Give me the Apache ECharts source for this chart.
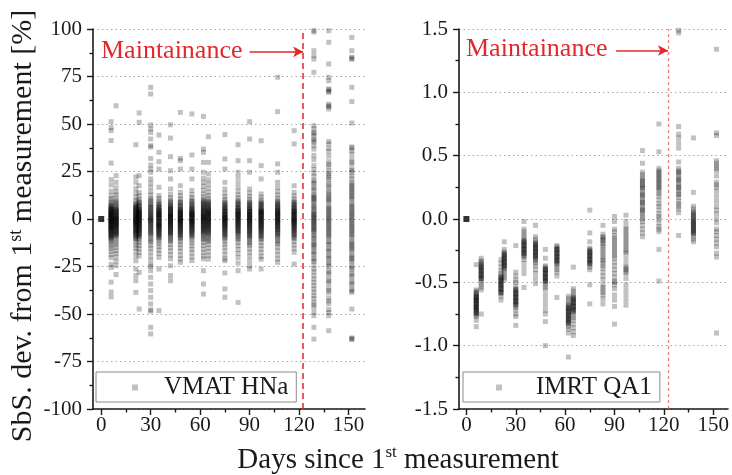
<!DOCTYPE html>
<html>
<head>
<meta charset="utf-8">
<script src="https://cdn.jsdelivr.net/npm/echarts@6/dist/echarts.min.js"></script>
<style>
  html, body { margin: 0; padding: 0; background: #ffffff; }
  #chart { width: 732px; height: 475px; }
</style>
</head>
<body>
<div id="chart"></div>
<script>
// Measurement days (days since the first measurement), shared by both panels
const measurementDays = [6, 9, 21, 23, 30, 35, 42, 48, 55, 62, 65, 75, 83, 90, 97, 107, 117, 129, 138, 152];
const maintenanceDay = 122.5;
const xTickValues = [0, 30, 60, 90, 120, 150];
const xMinorTickValues = [15, 45, 75, 105, 135];

// Reference measurement (day 0) of each panel
const referencePoint = [0, 0];

// VMAT HNa: segment-by-segment deviation [%] per measurement day
const vmatHNa = [
  [51.2, 48.1, 46.5, 41.3, 29.4, 20.7, 17.9, 14.6, 12.3, 10.8, 9.7, 8.6, 7.9, 7.1, 6.4, 5.8, 5.2, 4.7, 4.1, 3.6, 3.1, 2.5, 2.0, 1.6, 1.1, 0.7, 0.2, -0.3, -0.8, -1.2, -1.7, -2.3, -2.8, -3.4, -3.9, -4.4, -5.0, -5.6, -6.1, -6.7, -7.4, -8.0, -8.8, -9.5, -10.3, -11.2, -12.0, -13.1, -14.3, -15.6, -17.0, -18.8, -20.4, -23.9, -25.5, -33.2, -38.4, -41.0, 5.5, 3.8, 2.2, 0.9, -0.6, -2.0, -3.5, -4.9, -6.3, -7.7, 1.5, -1.1, -9.1, 4.4, 6.8, 5.0, 3.3, 1.9, 0.4, -0.9, -2.5, -3.7, -5.3, -6.6, -8.4, -10.0, 2.8, -4.1, -1.5],
  [59.6, 22.8, 19.3, 16.4, 14.2, 12.7, 11.0, 9.6, 8.2, 7.3, 6.5, 5.4, 4.6, 3.9, 3.2, 2.4, 1.7, 1.0, 0.4, -0.2, -0.9, -1.6, -2.2, -2.9, -3.5, -4.3, -5.1, -5.8, -6.6, -7.3, -8.1, -9.0, -9.9, -11.1, -12.4, -13.6, -15.0, -16.7, -18.2, -20.1, -22.3, -24.6, -29.2, 4.1, 2.7, 1.3, -0.5, -1.9, -3.2, -4.6, -6.0, -7.8, 0.2, 8.8, 6.0, 3.6, 2.0, 0.8, -1.2, -2.6, -4.0, -5.4, -7.0, -8.6, 5.0, -0.6, -3.0],
  [39.1, 22.1, 19.3, 16.0, 13.5, 11.4, 9.8, 8.5, 7.6, 6.6, 5.9, 5.0, 4.3, 3.5, 2.8, 2.2, 1.5, 0.9, 0.3, -0.4, -1.0, -1.7, -2.3, -3.0, -3.6, -4.4, -5.2, -5.9, -6.7, -7.6, -8.5, -9.6, -10.8, -12.1, -13.7, -15.2, -17.0, -19.4, -22.0, -26.3, -29.8, -32.5, -38.6, 6.1, 4.0, 2.5, 1.1, -0.2, -1.4, -2.6, -3.9, -5.5, -7.1, -8.9, 7.2, 5.4, 3.1, 1.8, 0.6, -0.8, -2.0, -3.3, -4.8, -6.3, -8.0, -10.2, 4.6, -1.4],
  [55.8, 50.9, 22.8, 17.5, 13.9, 12.1, 10.4, 9.2, 8.1, 7.2, 6.3, 5.6, 4.8, 4.0, 3.3, 2.6, 2.0, 1.3, 0.7, 0.1, -0.5, -1.1, -1.8, -2.4, -3.1, -3.8, -4.5, -5.3, -6.0, -6.9, -7.8, -8.7, -9.8, -11.0, -12.4, -13.9, -15.6, -17.5, -19.4, -28.1, -47.4, 5.1, 3.6, 2.3, 0.9, -0.8, -2.1, -3.5, -4.9, -6.4, -8.2, 8.6, 6.8, 4.4, 2.9, 1.6, 0.4, -1.4, -2.8, -4.2, -5.7, -7.3, -9.3, 3.7, -0.2],
  [69.3, 65.8, 49.5, 47.4, 45.6, 42.1, 38.6, 37.9, 31.9, 28.4, 26.3, 24.6, 21.1, 18.9, 16.7, 14.3, 12.6, 10.8, 9.5, 8.1, 6.9, 5.7, 4.4, 3.4, 2.2, 1.2, 0.3, -0.8, -1.9, -2.9, -4.1, -5.2, -6.4, -7.7, -9.0, -10.5, -12.1, -13.8, -15.4, -17.3, -19.6, -21.8, -24.3, -24.9, -27.2, -30.7, -34.2, -37.7, -41.2, -44.7, -47.8, -48.5, -57.0, -60.5, 3.9, 1.8, -0.2, -2.4, -4.6, -6.9, 9.9, 7.5, 5.1, 2.8, 0.8, -1.3, -3.5, -5.8, -8.3, -11.3, 6.3, -0.5],
  [44.2, 35.1, 30.2, 26.3, 16.7, 12.4, 10.9, 9.6, 8.4, 7.5, 6.6, 5.7, 4.9, 4.2, 3.4, 2.7, 2.0, 1.4, 0.8, 0.1, -0.6, -1.2, -1.9, -2.6, -3.3, -4.0, -4.8, -5.6, -6.4, -7.3, -8.3, -9.3, -10.4, -11.7, -13.0, -14.6, -16.3, -18.1, -20.2, -26.3, -48.2, 5.3, 3.7, 2.3, 0.5, -0.9, -2.3, -3.7, -5.1, -6.9, -8.6, 7.9, 6.1, 4.5, 3.0, 1.7, 0.3, -1.5, -2.9, -4.4, -6.0, -7.7, -9.8, 2.6, -3.6],
  [49.6, 42.6, 32.8, 25.4, 21.1, 15.8, 12.9, 11.1, 9.7, 8.5, 7.4, 6.5, 5.6, 4.8, 4.0, 3.3, 2.5, 1.8, 1.2, 0.5, -0.2, -0.9, -1.5, -2.2, -2.9, -3.7, -4.5, -5.3, -6.2, -7.1, -8.1, -9.2, -10.5, -11.8, -13.3, -15.0, -16.9, -18.9, -21.0, -24.6, -29.8, -32.5, 6.0, 4.4, 2.9, 1.5, 0.0, -1.3, -2.6, -4.1, -5.8, -7.5, 8.9, 7.0, 5.2, 3.6, 2.1, 0.9, -0.6, -1.9, -3.3, -4.9, -6.6, -8.6, -11.1, 1.4],
  [56.1, 31.9, 30.7, 26.3, 17.5, 14.0, 12.2, 10.6, 9.3, 8.2, 7.2, 6.3, 5.5, 4.6, 3.9, 3.1, 2.4, 1.7, 1.1, 0.4, -0.3, -1.0, -1.6, -2.3, -3.0, -3.8, -4.6, -5.4, -6.3, -7.2, -8.2, -9.4, -10.6, -12.0, -13.5, -15.2, -17.0, -19.1, -21.0, -22.8, 5.0, 3.5, 2.0, 0.8, -0.6, -1.9, -3.4, -4.9, -6.6, -8.6, 8.7, 6.7, 4.2, 2.7, 1.4, 0.1, -1.3, -2.7, -4.2, -5.8, -7.6, -9.9, 3.5, -0.7],
  [55.3, 33.7, 26.3, 21.1, 15.1, 12.9, 11.3, 9.9, 8.7, 7.7, 6.8, 5.9, 5.1, 4.3, 3.6, 2.9, 2.2, 1.6, 0.9, 0.3, -0.4, -1.0, -1.7, -2.4, -3.1, -3.9, -4.7, -5.5, -6.4, -7.4, -8.5, -9.7, -11.0, -12.5, -14.1, -15.9, -17.8, -19.9, -21.9, 5.6, 4.0, 2.6, 1.2, -0.1, -1.5, -2.9, -4.3, -6.0, -7.9, 9.3, 7.2, 4.7, 3.2, 1.9, 0.6, -0.7, -2.1, -3.5, -5.1, -6.9, -9.0, 2.5, -1.3],
  [54.0, 36.8, 35.1, 29.8, 24.6, 21.5, 19.3, 17.2, 15.1, 13.2, 11.6, 10.2, 9.0, 7.9, 6.9, 6.0, 5.1, 4.3, 3.5, 2.8, 2.0, 1.3, 0.6, -0.1, -0.8, -1.5, -2.2, -3.0, -3.8, -4.6, -5.5, -6.4, -7.4, -8.5, -9.7, -11.0, -12.4, -14.0, -15.8, -17.6, -19.5, -21.0, -27.2, -34.2, -39.5, 7.5, 5.6, 3.9, 2.4, 0.9, -0.5, -2.0, -3.4, -5.0, -6.9, 9.5, 8.4, 6.4, 4.7, 3.1, 1.6, 0.2, -1.2, -2.6, -4.2, -5.9, -7.9, -10.3, 1.0],
  [43.3, 29.8, 23.7, 20.6, 18.4, 16.1, 14.0, 12.3, 10.8, 9.5, 8.4, 7.4, 6.4, 5.5, 4.7, 3.9, 3.1, 2.4, 1.7, 1.0, 0.3, -0.4, -1.1, -1.8, -2.5, -3.3, -4.1, -4.9, -5.8, -6.8, -7.9, -9.1, -10.4, -11.8, -13.4, -15.2, -17.1, -19.2, -21.1, 6.9, 5.0, 3.4, 1.9, 0.6, -0.7, -2.1, -3.6, -5.3, -7.3, 9.0, 7.9, 5.9, 4.3, 2.8, 1.4, 0.0, -1.4, -2.9, -4.5, -6.3, -8.5, -11.1, 3.5],
  [44.4, 31.6, 26.3, 19.3, 15.8, 13.6, 11.8, 10.3, 9.0, 7.9, 6.9, 6.0, 5.1, 4.3, 3.5, 2.8, 2.1, 1.4, 0.7, 0.1, -0.6, -1.3, -2.0, -2.7, -3.4, -4.2, -5.0, -5.9, -6.9, -7.9, -9.0, -10.3, -11.7, -13.2, -14.9, -16.8, -18.9, -21.0, -21.9, -28.4, -36.8, -41.2, 5.8, 4.2, 2.6, 1.0, -0.3, -1.7, -3.1, -4.6, -6.4, -8.4, 8.4, 7.4, 5.5, 3.9, 2.4, 1.3, -0.1, -1.0, -2.4, -3.8, -5.4, -7.4, -9.6, 0.4],
  [39.1, 30.7, 24.6, 22.1, 19.4, 16.8, 14.6, 12.7, 11.1, 9.7, 8.5, 7.4, 6.4, 5.5, 4.6, 3.8, 3.0, 2.3, 1.6, 0.9, 0.2, -0.5, -1.2, -1.9, -2.7, -3.5, -4.3, -5.2, -6.2, -7.2, -8.3, -9.5, -10.9, -12.4, -14.1, -16.0, -18.1, -20.3, -23.2, -27.2, -43.9, 6.2, 4.3, 2.7, 1.2, -0.1, -1.5, -3.0, -4.7, -6.6, 9.0, 7.9, 5.9, 4.2, 2.6, 1.9, 0.5, -0.8, -2.3, -3.9, -5.7, -7.7, -10.1, 3.4],
  [51.2, 42.1, 30.7, 24.6, 15.8, 13.7, 11.9, 10.4, 9.1, 8.0, 7.0, 6.1, 5.2, 4.4, 3.6, 2.9, 2.2, 1.5, 0.8, 0.1, -0.6, -1.3, -2.0, -2.8, -3.6, -4.4, -5.3, -6.2, -7.2, -8.3, -9.5, -10.8, -12.2, -13.8, -15.6, -17.5, -19.6, -22.0, -24.6, -26.3, 5.4, 3.9, 2.5, 1.1, -0.2, -1.6, -3.2, -4.8, -6.7, -8.8, 8.5, 7.5, 5.6, 4.0, 2.6, 1.8, 0.4, -0.9, -2.4, -4.0, -5.8, -7.7, -10.1, -12.9],
  [41.2, 28.1, 21.1, 13.2, 11.5, 10.1, 8.9, 7.9, 7.0, 6.1, 5.3, 4.5, 3.8, 3.1, 2.4, 1.7, 1.1, 0.4, -0.3, -0.9, -1.6, -2.3, -3.0, -3.8, -4.6, -5.4, -6.3, -7.3, -8.4, -9.6, -10.9, -12.4, -14.0, -15.8, -17.7, -19.8, -21.2, -26.3, 4.8, 3.4, 2.0, 0.7, -0.6, -2.0, -3.4, -4.9, -6.7, -8.8, 8.4, 7.5, 5.7, 4.1, 2.7, 1.4, 0.1, -1.3, -2.7, -4.2, -5.9, -7.8, -10.2, 3.5],
  [74.6, 56.5, 29.0, 24.6, 19.3, 16.7, 14.5, 12.6, 11.0, 9.6, 8.4, 7.3, 6.3, 5.4, 4.5, 3.7, 2.9, 2.2, 1.5, 0.8, 0.1, -0.6, -1.3, -2.0, -2.8, -3.6, -4.5, -5.4, -6.4, -7.5, -8.7, -10.0, -11.5, -13.1, -14.9, -16.8, -18.9, -21.0, -22.8, 6.6, 4.8, 3.2, 1.8, 0.4, -0.9, -2.3, -3.9, -5.7, -7.8, 8.9, 7.8, 5.8, 4.1, 2.5, 1.1, -0.3, -1.7, -3.2, -4.9, -6.9, -9.3, -12.2, 3.4],
  [46.5, 39.5, 17.5, 14.0, 12.1, 10.6, 9.3, 8.2, 7.2, 6.3, 5.4, 4.6, 3.8, 3.1, 2.4, 1.7, 1.0, 0.4, -0.3, -1.0, -1.7, -2.4, -3.2, -4.0, -4.9, -5.8, -6.8, -7.9, -9.1, -10.4, -11.9, -13.6, -15.5, -17.5, -23.7, 5.9, 4.2, 2.8, 1.3, -0.1, -1.4, -2.8, -4.4, -6.2, -8.3, 8.7, 7.7, 5.8, 4.0, 2.0, 0.7, -0.7, -2.1, -3.6, -5.3, -7.3, -9.7, 3.4, -1.2],
  [99.2, 98.4, 88.6, 86.0, 84.2, 77.2, 49.1, 47.5, 45.6, 43.9, 42.1, 40.5, 38.6, 36.8, 28.1, 26.0, 24.2, 22.5, 20.3, 18.6, 16.9, 14.8, 13.0, 11.5, 10.2, 8.6, 7.1, 5.8, 4.5, 3.0, 1.8, 0.6, -0.7, -1.9, -3.2, -4.6, -5.9, -7.4, -8.8, -10.3, -11.9, -13.6, -15.2, -16.9, -18.7, -20.6, -22.4, -26.3, -29.8, -33.3, -35.1, -38.6, -40.4, -43.9, -46.5, -49.1, -50.9, -57.0, -63.2, 33.5, 31.2, 19.5, 15.9, 12.2, 9.4, 6.4, 3.8, 1.2, -1.3, -4.0, -6.6, -9.5, -12.7, -14.4, -17.8, -21.5, -24.3, -27.8, -31.6, -36.9, -41.9, -45.2, 45.0, 41.3, -2.6, 2.3, -5.2, 0.0, 10.9],
  [99.1, 93.0, 81.6, 74.6, 72.8, 68.4, 68.0, 66.7, 59.6, 59.1, 57.9, 39.5, 35.6, 33.1, 30.2, 27.5, 25.3, 22.9, 20.6, 18.8, 16.4, 14.7, 12.5, 10.6, 8.9, 7.0, 5.3, 3.6, 1.9, 0.2, -1.4, -3.1, -4.8, -6.5, -8.3, -10.1, -11.8, -13.5, -15.4, -17.3, -19.1, -21.0, -22.8, -24.9, -27.0, -29.3, -31.6, -33.9, -36.4, -38.9, -41.7, -44.6, -47.6, -50.9, -58.8, 37.2, 28.8, 24.1, 21.8, 17.6, 13.6, 11.5, 9.7, 6.1, 4.4, 2.7, 1.0, -0.6, -2.2, -4.0, -5.6, -7.4, -9.2, -12.7, -16.3, -20.1, -23.8, -28.2, -32.7, -37.6, -43.1, -49.2, 40.8, 60.4, 67.2],
  [95.6, 88.6, 84.6, 84.0, 69.3, 61.8, 50.5, 37.9, 37.4, 34.2, 31.6, 28.9, 26.3, 24.4, 21.1, 19.3, 17.4, 15.6, 13.6, 11.8, 9.9, 8.1, 6.4, 4.5, 2.8, 1.0, -0.8, -2.6, -4.3, -6.1, -7.9, -9.8, -11.5, -13.4, -15.1, -17.0, -18.9, -20.7, -22.6, -24.6, -26.5, -28.4, -30.5, -32.6, -34.8, -36.9, -38.6, -47.4, -63.0, -63.4, 35.9, 29.9, 25.5, 22.6, 18.3, 16.5, 14.6, 12.7, 10.8, 7.2, 5.4, 3.6, 1.9, 0.1, -1.7, -3.5, -5.2, -7.0, -8.8, -12.4, -14.2, -16.1, -19.8, -21.6, -25.6, -29.5, -33.7, -37.8, 85.2, -62.6]
];

// IMRT QA1: segment-by-segment deviation [%] per measurement day
const imrtQA1 = [
  [-0.36, -0.56, -0.57, -0.58, -0.59, -0.60, -0.61, -0.62, -0.62, -0.63, -0.64, -0.65, -0.65, -0.66, -0.67, -0.68, -0.69, -0.69, -0.70, -0.71, -0.72, -0.73, -0.74, -0.75, -0.76, -0.77, -0.80, -0.85, -0.61, -0.64, -0.67, -0.70, -0.72, -0.74],
  [-0.31, -0.33, -0.34, -0.35, -0.36, -0.37, -0.38, -0.39, -0.40, -0.41, -0.42, -0.43, -0.44, -0.45, -0.46, -0.47, -0.48, -0.50, -0.52, -0.54, -0.56, -0.75, -0.38, -0.41, -0.44, -0.47],
  [-0.32, -0.35, -0.38, -0.41, -0.43, -0.45, -0.46, -0.47, -0.48, -0.49, -0.50, -0.51, -0.52, -0.53, -0.54, -0.55, -0.56, -0.57, -0.58, -0.59, -0.61, -0.64, -0.46, -0.49, -0.52, -0.55, -0.58],
  [-0.18, -0.24, -0.26, -0.27, -0.28, -0.29, -0.30, -0.31, -0.32, -0.33, -0.34, -0.35, -0.36, -0.37, -0.38, -0.39, -0.40, -0.42, -0.44, -0.46, -0.48, -0.28, -0.31, -0.34, -0.37],
  [-0.21, -0.42, -0.45, -0.48, -0.50, -0.53, -0.55, -0.56, -0.57, -0.58, -0.59, -0.60, -0.61, -0.62, -0.63, -0.64, -0.65, -0.66, -0.67, -0.68, -0.70, -0.72, -0.75, -0.77, -0.84, -0.56, -0.59, -0.62, -0.65, -0.68],
  [-0.02, -0.08, -0.10, -0.12, -0.14, -0.16, -0.17, -0.18, -0.19, -0.20, -0.21, -0.22, -0.23, -0.24, -0.25, -0.26, -0.27, -0.28, -0.29, -0.30, -0.32, -0.35, -0.39, -0.43, -0.54, -0.18, -0.21, -0.24, -0.27],
  [-0.05, -0.14, -0.16, -0.18, -0.19, -0.20, -0.21, -0.22, -0.23, -0.24, -0.25, -0.26, -0.27, -0.28, -0.29, -0.30, -0.31, -0.32, -0.33, -0.35, -0.37, -0.40, -0.43, -0.47, -0.51, -0.20, -0.23, -0.26, -0.29],
  [-0.24, -0.31, -0.37, -0.38, -0.39, -0.40, -0.41, -0.42, -0.43, -0.44, -0.45, -0.46, -0.47, -0.48, -0.49, -0.50, -0.52, -0.54, -0.56, -0.60, -0.64, -0.68, -0.72, -0.75, -0.81, -1.00, -0.40, -0.43, -0.46, -0.49],
  [-0.21, -0.22, -0.23, -0.24, -0.25, -0.26, -0.27, -0.28, -0.29, -0.30, -0.31, -0.32, -0.33, -0.34, -0.35, -0.36, -0.38, -0.40, -0.42, -0.45, -0.62, -0.24, -0.27, -0.30, -0.33],
  [-0.61, -0.63, -0.65, -0.67, -0.68, -0.69, -0.70, -0.71, -0.72, -0.73, -0.74, -0.75, -0.76, -0.77, -0.78, -0.79, -0.80, -0.81, -0.82, -0.83, -0.85, -0.87, -0.90, -1.09, -0.70, -0.73, -0.76, -0.79, -0.82],
  [-0.38, -0.55, -0.57, -0.59, -0.61, -0.62, -0.63, -0.64, -0.65, -0.66, -0.67, -0.68, -0.69, -0.70, -0.71, -0.72, -0.73, -0.74, -0.76, -0.78, -0.80, -0.83, -0.86, -0.89, -0.92, -0.63, -0.66, -0.69, -0.72],
  [0.07, -0.11, -0.18, -0.23, -0.24, -0.25, -0.26, -0.27, -0.28, -0.29, -0.30, -0.31, -0.32, -0.33, -0.34, -0.35, -0.36, -0.38, -0.40, -0.52, -0.67, -0.26, -0.29, -0.32, -0.35],
  [-0.05, -0.12, -0.14, -0.15, -0.16, -0.17, -0.19, -0.20, -0.22, -0.24, -0.26, -0.28, -0.30, -0.32, -0.33, -0.35, -0.37, -0.39, -0.42, -0.45, -0.48, -0.52, -0.54, -0.56, -0.58, -0.60, -0.63, -0.67],
  [0.02, -0.02, -0.08, -0.10, -0.13, -0.15, -0.17, -0.19, -0.21, -0.23, -0.25, -0.27, -0.29, -0.31, -0.34, -0.37, -0.40, -0.43, -0.46, -0.49, -0.50, -0.52, -0.55, -0.60, -0.64, -0.69, -0.83],
  [0.03, -0.02, -0.06, -0.08, -0.10, -0.12, -0.14, -0.16, -0.18, -0.20, -0.22, -0.24, -0.26, -0.27, -0.31, -0.35, -0.38, -0.39, -0.40, -0.42, -0.43, -0.47, -0.52, -0.56, -0.60, -0.64, -0.68],
  [0.54, 0.44, 0.37, 0.35, 0.33, 0.31, 0.29, 0.27, 0.26, 0.24, 0.22, 0.20, 0.18, 0.16, 0.14, 0.12, 0.10, 0.08, 0.06, 0.04, 0.02, 0.00, -0.02, -0.05, -0.08, -0.11, -0.14, 0.30, 0.25, 0.19, 0.13, 0.07],
  [0.75, 0.53, 0.40, 0.38, 0.36, 0.34, 0.32, 0.30, 0.28, 0.26, 0.24, 0.22, 0.20, 0.18, 0.15, 0.12, 0.10, 0.07, 0.04, 0.02, 0.00, -0.03, -0.06, -0.08, -0.10, -0.24, -0.49, 0.37, 0.33, 0.29, 0.25],
  [1.49, 1.47, 0.73, 0.67, 0.64, 0.60, 0.56, 0.45, 0.40, 0.38, 0.36, 0.34, 0.32, 0.30, 0.28, 0.26, 0.24, 0.22, 0.20, 0.17, 0.14, 0.12, 0.10, 0.08, 0.05, -0.13, 0.37, 0.31, 0.25, 0.19],
  [0.64, 0.21, 0.10, 0.08, 0.06, 0.05, 0.04, 0.02, 0.01, 0.00, -0.01, -0.02, -0.03, -0.04, -0.05, -0.06, -0.07, -0.08, -0.09, -0.10, -0.11, -0.12, -0.14, -0.16, -0.18, 0.03, -0.03, -0.07, -0.11],
  [1.34, 0.68, 0.66, 0.46, 0.44, 0.42, 0.40, 0.38, 0.34, 0.29, 0.27, 0.25, 0.22, 0.18, 0.14, 0.10, 0.07, 0.04, 0.00, -0.03, -0.08, -0.10, -0.13, -0.16, -0.19, -0.22, -0.27, -0.30, -0.90]
];

// Flatten per-day columns into [day, value] pairs
function toPoints(days, columns) {
  const pts = [];
  days.forEach((d, i) => columns[i].forEach(v => pts.push([d, v])));
  return pts;
}

const SERIF = 'Liberation Serif';
const INK = '#1a1a1a';
const MARK = 'rgba(0,0,0,0.3)';
const RED = '#e3262b';

function xAxesFor(gridIndex, min, max) {
  return [
    {
      gridIndex, type: 'value', min, max, position: 'bottom',
      axisLine: { show: true, onZero: false, lineStyle: { color: INK, width: 1.6 } },
      axisTick: { show: true, length: 6, customValues: xTickValues, lineStyle: { color: INK, width: 1.4 } },
      axisLabel: { show: true, customValues: xTickValues, margin: 6, color: INK, fontFamily: SERIF, fontSize: 21 },
      splitLine: { show: false }
    },
    {
      gridIndex, type: 'value', min, max, position: 'bottom',
      axisLine: { show: false, onZero: false },
      axisTick: { show: true, length: 3.5, customValues: xMinorTickValues, lineStyle: { color: INK, width: 1.4 } },
      axisLabel: { show: false },
      splitLine: { show: false }
    }
  ];
}

function yAxisFor(gridIndex, min, max, interval, formatter) {
  return {
    gridIndex, type: 'value', min, max, interval,
    axisLine: { show: true, onZero: false, lineStyle: { color: INK, width: 1.6 } },
    axisTick: { show: true, length: 6, lineStyle: { color: INK, width: 1.4 } },
    minorTick: { show: true, splitNumber: 2, length: 3.5, lineStyle: { color: INK, width: 1.4 } },
    axisLabel: { margin: 11, color: INK, fontFamily: SERIF, fontSize: 21, formatter },
    splitLine: { show: true, lineStyle: { color: '#a8a8a8', width: 1, type: [1.5, 3] } }
  };
}

function legendFor(name, left, padLeft, textPad) {
  return {
    data: [name], left, top: 372, orient: 'horizontal',
    icon: 'rect', itemWidth: 6, itemHeight: 6,
    selectedMode: false,
    borderColor: '#8a8a8a', borderWidth: 1,
    padding: [3, 8, 2, padLeft],
    textStyle: { fontFamily: SERIF, fontSize: 25, color: INK, padding: [0, 0, 0, textPad] }
  };
}

function arrowLine(y, x0, x1) {
  return {
    silent: true,
    symbol: ['none', 'arrow'],
    symbolSize: [8, 10],
    label: { show: false },
    lineStyle: { color: RED, width: 1.5, type: 'solid' },
    data: [[{ coord: [x0, y] }, { coord: [x1, y] }]]
  };
}

const supRich = (size) => ({
  n: { fontFamily: SERIF, fontSize: size, fill: INK, lineHeight: size + 2 },
  s: { fontFamily: SERIF, fontSize: Math.round(size * 0.6), fill: INK, verticalAlign: 'top', lineHeight: size + 2 }
});

const chart = echarts.init(document.getElementById('chart'), null, { renderer: 'canvas' });

chart.setOption({
  animation: false,
  backgroundColor: '#ffffff',
  grid: [
    { left: 93, top: 29, width: 272, height: 380 },
    { left: 459, top: 29, width: 269, height: 380 }
  ],
  xAxis: [].concat(xAxesFor(0, -5, 160), xAxesFor(1, -4.5, 159)),
  yAxis: [
    yAxisFor(0, -100, 100, 25, v => String(v)),
    yAxisFor(1, -1.5, 1.5, 0.5, v => v.toFixed(1))
  ],
  legend: [
    legendFor('VMAT HNa', 96, 36, 21),
    legendFor('IMRT QA1', 463, 33, 29)
  ],
  series: [
    {
      name: 'VMAT HNa', type: 'scatter', xAxisIndex: 0, yAxisIndex: 0,
      symbol: 'rect', symbolSize: 5, large: false,
      itemStyle: { color: MARK },
      data: toPoints(measurementDays, vmatHNa),
      markLine: {
        silent: true, symbol: 'none', label: { show: false },
        lineStyle: { color: RED, width: 1.5, type: [6, 4] },
        data: [{ xAxis: maintenanceDay }]
      }
    },
    {
      name: 'ref-vmat', type: 'scatter', xAxisIndex: 0, yAxisIndex: 0,
      symbol: 'rect', symbolSize: 6, itemStyle: { color: '#000' },
      data: [referencePoint],
      markLine: arrowLine(88, 90, maintenanceDay)
    },
    {
      name: 'IMRT QA1', type: 'scatter', xAxisIndex: 2, yAxisIndex: 1,
      symbol: 'rect', symbolSize: 5, large: false,
      itemStyle: { color: MARK },
      data: toPoints(measurementDays, imrtQA1),
      markLine: {
        silent: true, symbol: 'none', label: { show: false },
        lineStyle: { color: 'rgba(232,80,80,0.7)', width: 1.4, type: [3, 3] },
        data: [{ xAxis: maintenanceDay }]
      }
    },
    {
      name: 'ref-imrt', type: 'scatter', xAxisIndex: 2, yAxisIndex: 1,
      symbol: 'rect', symbolSize: 6, itemStyle: { color: '#000' },
      data: [referencePoint],
      markLine: arrowLine(1.33, 91, maintenanceDay)
    }
  ],
  graphic: [
    { type: 'text', x: 101, y: 51, silent: true,
      style: { text: 'Maintainance', fill: RED, fontFamily: SERIF, fontSize: 26, align: 'left', verticalAlign: 'middle' } },
    { type: 'text', x: 466, y: 49, silent: true,
      style: { text: 'Maintainance', fill: RED, fontFamily: SERIF, fontSize: 26, align: 'left', verticalAlign: 'middle' } },
    { type: 'text', x: 23, y: 226, rotation: Math.PI / 2, silent: true,
      style: { text: '{n|SbS. dev. from 1}{s|st}{n| measurement [%]}', rich: supRich(30), align: 'center', verticalAlign: 'middle' } },
    { type: 'text', x: 398, y: 460, silent: true,
      style: { text: '{n|Days since 1}{s|st}{n| measurement}', rich: supRich(29), align: 'center', verticalAlign: 'middle' } }
  ]
});
</script>
</body>
</html>
